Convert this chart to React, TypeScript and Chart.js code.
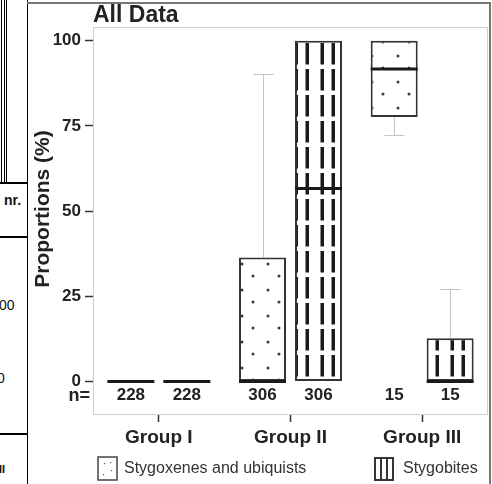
import React, { useEffect, useRef } from "react";
import { Chart, registerables } from "chart.js";

Chart.register(...registerables);

const categories = ["Group I", "Group II", "Group III"];
const yTickValues = [0, 25, 50, 75, 100];

// Stygoxenes and ubiquists
const sxMin = [0, 0, 72.2];
const sxQ1 = [0, 0, 77.6];
const sxMedian = [0, 0, 91.7];
const sxQ3 = [0, 36.4, 100];
const sxMax = [0, 90.2, 100];
const sxN = [228, 306, 15];

// Stygobites
const sbMin = [0, 0, 0];
const sbQ1 = [0, 0, 0];
const sbMedian = [0, 56.6, 0];
const sbQ3 = [0, 100, 12.7];
const sbMax = [0, 100, 27.3];
const sbN = [228, 306, 15];

const FONT = '"Liberation Sans", Arial, Helvetica, sans-serif';
const TXT = "#222";

function makeDots(): CanvasPattern | string {
  const c = document.createElement("canvas");
  c.width = 26;
  c.height = 26;
  const g = c.getContext("2d");
  if (!g) return "#fff";
  g.fillStyle = "#fff";
  g.fillRect(0, 0, 26, 26);
  g.fillStyle = "#3a3a3a";
  [[8, 4], [19, 16]].forEach(([x, y]) => {
    g.beginPath();
    g.arc(x, y, 1.5, 0, Math.PI * 2);
    g.fill();
  });
  return g.createPattern(c, "repeat") || "#fff";
}

function makeStripes(): CanvasPattern | string {
  const c = document.createElement("canvas");
  c.width = 26;
  c.height = 26;
  const g = c.getContext("2d");
  if (!g) return "#fff";
  g.fillStyle = "#fff";
  g.fillRect(0, 0, 26, 26);
  g.fillStyle = "#1a1a1a";
  [8.5, 19.5].forEach((x) => {
    g.fillRect(x, 0, 3.5, 12.5);
    g.fillRect(x, 17, 3.5, 9);
  });
  return g.createPattern(c, "repeat") || "#fff";
}

const boxStats = [
  { min: sxMin, q1: sxQ1, med: sxMedian, q3: sxQ3, max: sxMax, n: sxN },
  { min: sbMin, q1: sbQ1, med: sbMedian, q3: sbQ3, max: sbMax, n: sbN },
];

export default function App() {
  const ref = useRef<HTMLCanvasElement | null>(null);

  useEffect(() => {
    if (!ref.current) return;
    const dots = makeDots();
    const stripes = makeStripes();

    const boxPlugin = {
      id: "boxExtras",
      beforeDatasetsDraw(chart: any) {
        const { ctx, chartArea: a, scales } = chart;
        const y = scales.y;
        ctx.save();
        // plot border
        ctx.strokeStyle = "#cfcfcf";
        ctx.lineWidth = 1;
        ctx.strokeRect(a.left + 0.5, a.top + 0.5, a.right - a.left - 1, a.bottom - a.top - 1);
        // whiskers
        ctx.strokeStyle = "#c4c4c4";
        ctx.lineWidth = 1;
        boxStats.forEach((s, di) => {
          const meta = chart.getDatasetMeta(di);
          meta.data.forEach((el: any, j: number) => {
            const cx = Math.round(el.x) + 0.5;
            const pairs: [number, number][] = [
              [s.q3[j], s.max[j]],
              [s.q1[j], s.min[j]],
            ];
            pairs.forEach(([from, to]) => {
              if (Math.abs(to - from) < 0.01) return;
              const y1 = y.getPixelForValue(from);
              const y2 = Math.round(y.getPixelForValue(to)) + 0.5;
              ctx.beginPath();
              ctx.moveTo(cx, y1);
              ctx.lineTo(cx, y2);
              ctx.moveTo(cx - 10, y2);
              ctx.lineTo(cx + 10, y2);
              ctx.stroke();
            });
          });
        });
        ctx.restore();
      },
      afterDatasetsDraw(chart: any) {
        const { ctx, scales } = chart;
        const y = scales.y;
        ctx.save();
        // medians
        ctx.strokeStyle = "#1a1a1a";
        ctx.lineWidth = 3;
        boxStats.forEach((s, di) => {
          const meta = chart.getDatasetMeta(di);
          meta.data.forEach((el: any, j: number) => {
            const py = y.getPixelForValue(s.med[j]);
            ctx.beginPath();
            ctx.moveTo(el.x - el.width / 2, py);
            ctx.lineTo(el.x + el.width / 2, py);
            ctx.stroke();
          });
        });
        // sample sizes
        const ny = y.getPixelForValue(0) + 14;
        ctx.fillStyle = TXT;
        ctx.textBaseline = "middle";
        ctx.font = `bold 18px ${FONT}`;
        ctx.textAlign = "right";
        ctx.fillText("n=", 90, ny);
        ctx.font = `bold 17px ${FONT}`;
        ctx.textAlign = "center";
        boxStats.forEach((s, di) => {
          const meta = chart.getDatasetMeta(di);
          meta.data.forEach((el: any, j: number) => {
            ctx.fillText(String(s.n[j]), el.x, ny);
          });
        });
        // y axis title
        ctx.save();
        ctx.translate(43, 209);
        ctx.rotate(-Math.PI / 2);
        ctx.font = `bold 21px ${FONT}`;
        ctx.textAlign = "center";
        ctx.textBaseline = "middle";
        ctx.fillText("Proportions (%)", 0, 0);
        ctx.restore();
        // legend
        const ds = chart.data.datasets;
        ctx.lineWidth = 1.5;
        ctx.strokeStyle = "#444";
        ctx.fillStyle = "#fff";
        ctx.fillRect(98, 457, 19, 23);
        ctx.strokeRect(98, 457, 19, 23);
        ctx.fillStyle = "#555";
        [[104, 463], [111, 470], [103, 474], [110, 462]].forEach(([dx, dy]) => {
          ctx.fillRect(dx, dy, 1.2, 1.2);
        });
        ctx.fillStyle = "#fff";
        ctx.fillRect(375, 458, 18, 22);
        ctx.strokeStyle = "#333";
        ctx.lineWidth = 2;
        ctx.strokeRect(375, 458, 18, 22);
        ctx.beginPath();
        ctx.moveTo(381, 458);
        ctx.lineTo(381, 480);
        ctx.moveTo(387, 458);
        ctx.lineTo(387, 480);
        ctx.stroke();
        ctx.fillStyle = "#333";
        ctx.font = `16px ${FONT}`;
        ctx.textAlign = "left";
        ctx.textBaseline = "middle";
        ctx.fillText(ds[0].label, 124, 469);
        ctx.fillText(ds[1].label, 403, 469);
        ctx.restore();
      },
    };

    const chart = new Chart(ref.current, {
      type: "bar",
      data: {
        labels: categories,
        datasets: [
          {
            label: "Stygoxenes and ubiquists",
            data: categories.map((_, i) => [sxQ1[i], sxQ3[i]]) as any,
            backgroundColor: dots as any,
            borderColor: "#333",
            borderWidth: 2,
            borderSkipped: false,
          },
          {
            label: "Stygobites",
            data: categories.map((_, i) => [sbQ1[i], sbQ3[i]]) as any,
            backgroundColor: stripes as any,
            borderColor: "#333",
            borderWidth: 2,
            borderSkipped: false,
          },
        ],
      },
      options: {
        responsive: false,
        animation: false,
        layout: { padding: { left: 0, right: 4, top: 0, bottom: 0 } },
        datasets: { bar: { barPercentage: 0.84, categoryPercentage: 0.85 } },
        plugins: {
          legend: { display: false },
          tooltip: { enabled: false },
          title: {
            display: true,
            text: "All Data",
            align: "start",
            fullSize: false,
            color: TXT,
            font: { family: FONT, size: 23, weight: "bold", lineHeight: 1 },
            padding: { top: 4, bottom: 0 },
          },
        },
        scales: {
          x: {
            grid: {
              display: true,
              offset: false,
              drawOnChartArea: false,
              drawTicks: true,
              tickLength: 7,
              tickColor: "#333",
              tickWidth: 1.5,
            },
            border: { display: false },
            ticks: { color: TXT, padding: 4, font: { family: FONT, size: 19, weight: "bold" } },
            afterFit: (s: any) => {
              s.height = 69;
            },
          },
          y: {
            min: -9.8,
            max: 104,
            afterBuildTicks: (s: any) => {
              s.ticks = yTickValues.map((v) => ({ value: v }));
            },
            grid: {
              drawOnChartArea: false,
              drawTicks: true,
              tickLength: 8,
              tickColor: "#333",
              tickWidth: 1.5,
            },
            border: { display: false },
            ticks: { color: TXT, padding: 4, font: { family: FONT, size: 17, weight: "bold" } },
            afterFit: (s: any) => {
              s.width = 93;
            },
          },
        },
      },
      plugins: [boxPlugin],
    });
    return () => chart.destroy();
  }, []);

  const line = (style: React.CSSProperties) => (
    <div style={{ position: "absolute", background: "#000", ...style }} />
  );
  const txt = (s: string, style: React.CSSProperties) => (
    <div
      style={{
        position: "absolute",
        fontFamily: FONT,
        fontSize: 14,
        color: "#111",
        lineHeight: "16px",
        whiteSpace: "nowrap",
        ...style,
      }}
    >
      {s}
    </div>
  );

  return (
    <div
      style={{
        position: "fixed",
        left: 0,
        top: 0,
        width: 492,
        height: 484,
        background: "#fff",
        overflow: "hidden",
      }}
    >
      {/* fragments of neighbouring table */}
      {line({ left: 1, top: 0, width: 1, height: 183 })}
      {line({ left: 4, top: 0, width: 1, height: 183 })}
      {line({ left: 6, top: 0, width: 1, height: 183 })}
      {line({ left: 0, top: 182, width: 27, height: 1.5 })}
      {line({ left: 0, top: 236, width: 27, height: 1.5 })}
      {line({ left: 0, top: 433, width: 27, height: 1.5 })}
      {line({ left: 26.5, top: 0, width: 1.5, height: 484 })}
      {txt("nr.", { left: 4, top: 192, fontWeight: "bold" })}
      {txt("00", { left: -1, top: 297 })}
      {txt("0", { left: -3, top: 370 })}
      {txt("II", { left: -1, top: 461, fontWeight: "bold", fontSize: 11 })}
      {/* outer frame */}
      <div style={{ position: "absolute", left: 27, top: 2, width: 463, height: 1.5, background: "#777" }} />
      <div style={{ position: "absolute", left: 489, top: 2, width: 1.5, height: 482, background: "#777" }} />
      <canvas
        ref={ref}
        width={492}
        height={484}
        style={{ position: "absolute", left: 0, top: 0, width: 492, height: 484 }}
      />
    </div>
  );
}
